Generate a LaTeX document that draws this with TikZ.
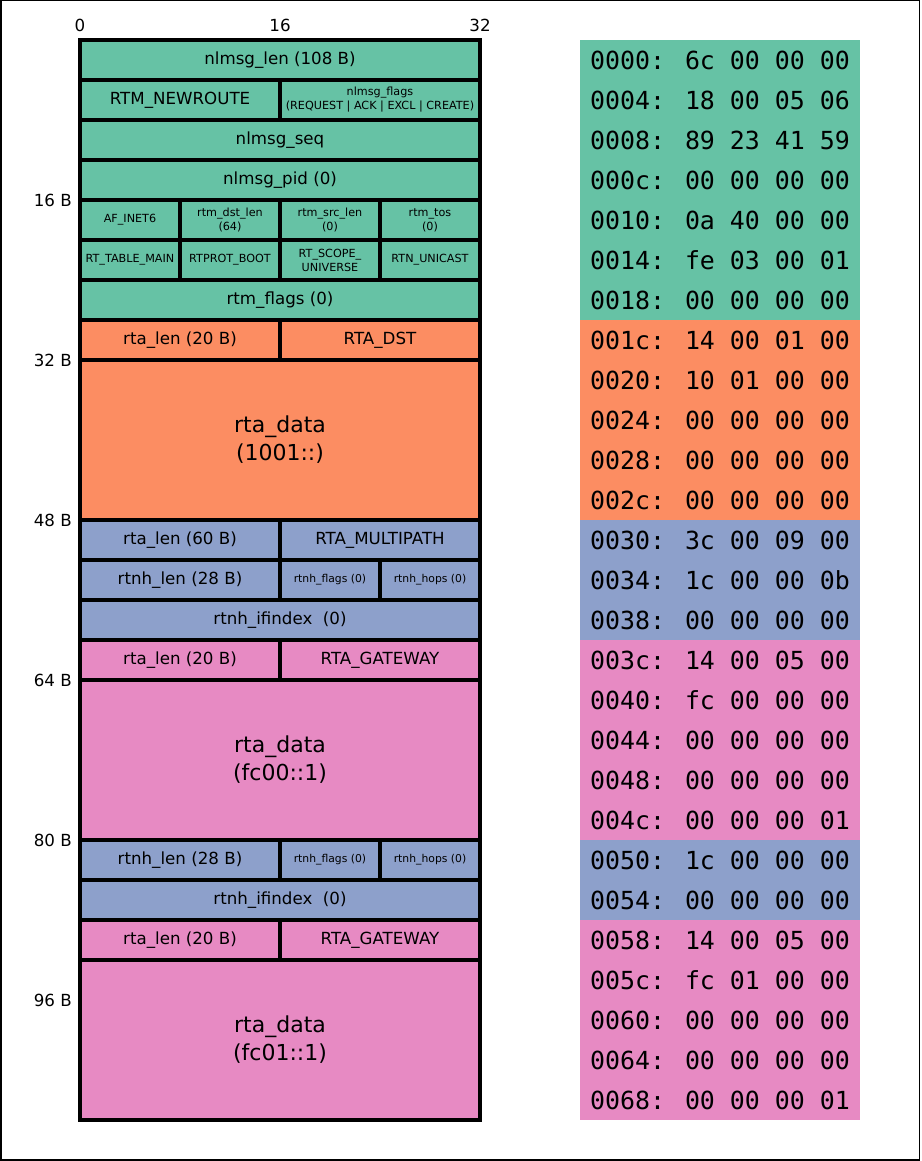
\documentclass[tikz,border=0pt]{standalone}
\usepackage{fontspec}
\setmainfont{DejaVu Sans}
\newfontfamily\hexfont{DejaVu Sans Mono}
\definecolor{cteal}{HTML}{66C2A5}
\definecolor{corange}{HTML}{FC8D62}
\definecolor{cblue}{HTML}{8DA0CB}
\definecolor{cpink}{HTML}{E78AC3}
\tikzset{
  fld/.style={draw=black, line width=3.5pt, inner sep=0pt, outer sep=0pt, anchor=north west, align=center, font=\fontsize{16.67}{20}\selectfont},
  smalltxt/.style={font=\fontsize{11.2}{14}\selectfont},
  tinytxt/.style={font=\fontsize{10.8}{12}\selectfont},
  datatxt/.style={font=\fontsize{22}{28}\selectfont},
  hexrow/.style={inner sep=0pt, outer sep=0pt, anchor=north west, minimum width=280pt, minimum height=40pt, font=\hexfont\fontsize{24.9}{30}\selectfont},
  axislbl/.style={inner sep=0pt, font=\fontsize{16.67}{20}\selectfont},
  frame/.style={draw=black, line width=1.5pt}
}
\newcommand\fld[7]{\node[fld, fill=#6, minimum width=#4pt, minimum height=#5pt] (#1) at (#2,#3) {#7};}
\newcommand\fldS[8]{\node[fld, #8, fill=#6, minimum width=#4pt, minimum height=#5pt] (#1) at (#2,#3) {#7};}
\newcommand\hexr[4]{\node[hexrow, fill=#3] (#1) at (580,#2) {#4};}
\begin{document}
\begin{tikzpicture}[x=1pt,y=-1pt]
\useasboundingbox (0,0) rectangle (921,1161);
\draw[frame] (0.75,0.75) rectangle (919.5,1160);
% axis labels
\node[axislbl] (t0) at (80,25.5) {0};
\node[axislbl] (t16) at (280,25.5) {16};
\node[axislbl] (t32) at (480,25.5) {32};
\node[axislbl, anchor=east] (b16) at (72,200) {16 B};
\node[axislbl, anchor=east] (b32) at (72,360) {32 B};
\node[axislbl, anchor=east] (b48) at (72,520) {48 B};
\node[axislbl, anchor=east] (b64) at (72,680) {64 B};
\node[axislbl, anchor=east] (b80) at (72,840) {80 B};
\node[axislbl, anchor=east] (b96) at (72,1000) {96 B};
% header
\fld{r0}{80}{40}{400}{40}{cteal}{nlmsg\_len (108 B)}
\fld{r1a}{80}{80}{200}{40}{cteal}{RTM\_NEWROUTE}
\fldS{r1b}{280}{80}{200}{40}{cteal}{nlmsg\_flags\\(REQUEST | ACK | EXCL | CREATE)}{smalltxt}
\fld{r2}{80}{120}{400}{40}{cteal}{nlmsg\_seq}
\fld{r3}{80}{160}{400}{40}{cteal}{nlmsg\_pid (0)}
\fldS{r4a}{80}{200}{100}{40}{cteal}{AF\_INET6}{smalltxt}
\fldS{r4b}{180}{200}{100}{40}{cteal}{rtm\_dst\_len\\(64)}{smalltxt}
\fldS{r4c}{280}{200}{100}{40}{cteal}{rtm\_src\_len\\(0)}{smalltxt}
\fldS{r4d}{380}{200}{100}{40}{cteal}{rtm\_tos\\(0)}{smalltxt}
\fldS{r5a}{80}{240}{100}{40}{cteal}{RT\_TABLE\_MAIN}{smalltxt}
\fldS{r5b}{180}{240}{100}{40}{cteal}{RTPROT\_BOOT}{smalltxt}
\fldS{r5c}{280}{240}{100}{40}{cteal}{RT\_SCOPE\_\\UNIVERSE}{smalltxt}
\fldS{r5d}{380}{240}{100}{40}{cteal}{RTN\_UNICAST}{smalltxt}
\fld{r6}{80}{280}{400}{40}{cteal}{rtm\_flags (0)}
% RTA_DST
\fld{r7a}{80}{320}{200}{40}{corange}{rta\_len (20 B)}
\fld{r7b}{280}{320}{200}{40}{corange}{RTA\_DST}
\fldS{r8}{80}{360}{400}{160}{corange}{rta\_data\\(1001::)}{datatxt}
% RTA_MULTIPATH
\fld{r12a}{80}{520}{200}{40}{cblue}{rta\_len (60 B)}
\fld{r12b}{280}{520}{200}{40}{cblue}{RTA\_MULTIPATH}
\fld{r13a}{80}{560}{200}{40}{cblue}{rtnh\_len (28 B)}
\fldS{r13b}{280}{560}{100}{40}{cblue}{rtnh\_flags (0)}{tinytxt}
\fldS{r13c}{380}{560}{100}{40}{cblue}{rtnh\_hops (0)}{tinytxt}
\fld{r14}{80}{600}{400}{40}{cblue}{rtnh\_ifindex~~(0)}
\fld{r15a}{80}{640}{200}{40}{cpink}{rta\_len (20 B)}
\fld{r15b}{280}{640}{200}{40}{cpink}{RTA\_GATEWAY}
\fldS{r16}{80}{680}{400}{160}{cpink}{rta\_data\\(fc00::1)}{datatxt}
\fld{r20a}{80}{840}{200}{40}{cblue}{rtnh\_len (28 B)}
\fldS{r20b}{280}{840}{100}{40}{cblue}{rtnh\_flags (0)}{tinytxt}
\fldS{r20c}{380}{840}{100}{40}{cblue}{rtnh\_hops (0)}{tinytxt}
\fld{r21}{80}{880}{400}{40}{cblue}{rtnh\_ifindex~~(0)}
\fld{r22a}{80}{920}{200}{40}{cpink}{rta\_len (20 B)}
\fld{r22b}{280}{920}{200}{40}{cpink}{RTA\_GATEWAY}
\fldS{r23}{80}{960}{400}{160}{cpink}{rta\_data\\(fc01::1)}{datatxt}
% hex dump
\hexr{h00}{40}{cteal}{0000: 6c 00 00 00}
\hexr{h01}{80}{cteal}{0004: 18 00 05 06}
\hexr{h02}{120}{cteal}{0008: 89 23 41 59}
\hexr{h03}{160}{cteal}{000c: 00 00 00 00}
\hexr{h04}{200}{cteal}{0010: 0a 40 00 00}
\hexr{h05}{240}{cteal}{0014: fe 03 00 01}
\hexr{h06}{280}{cteal}{0018: 00 00 00 00}
\hexr{h07}{320}{corange}{001c: 14 00 01 00}
\hexr{h08}{360}{corange}{0020: 10 01 00 00}
\hexr{h09}{400}{corange}{0024: 00 00 00 00}
\hexr{h10}{440}{corange}{0028: 00 00 00 00}
\hexr{h11}{480}{corange}{002c: 00 00 00 00}
\hexr{h12}{520}{cblue}{0030: 3c 00 09 00}
\hexr{h13}{560}{cblue}{0034: 1c 00 00 0b}
\hexr{h14}{600}{cblue}{0038: 00 00 00 00}
\hexr{h15}{640}{cpink}{003c: 14 00 05 00}
\hexr{h16}{680}{cpink}{0040: fc 00 00 00}
\hexr{h17}{720}{cpink}{0044: 00 00 00 00}
\hexr{h18}{760}{cpink}{0048: 00 00 00 00}
\hexr{h19}{800}{cpink}{004c: 00 00 00 01}
\hexr{h20}{840}{cblue}{0050: 1c 00 00 00}
\hexr{h21}{880}{cblue}{0054: 00 00 00 00}
\hexr{h22}{920}{cpink}{0058: 14 00 05 00}
\hexr{h23}{960}{cpink}{005c: fc 01 00 00}
\hexr{h24}{1000}{cpink}{0060: 00 00 00 00}
\hexr{h25}{1040}{cpink}{0064: 00 00 00 00}
\hexr{h26}{1080}{cpink}{0068: 00 00 00 01}
\end{tikzpicture}
\end{document}
